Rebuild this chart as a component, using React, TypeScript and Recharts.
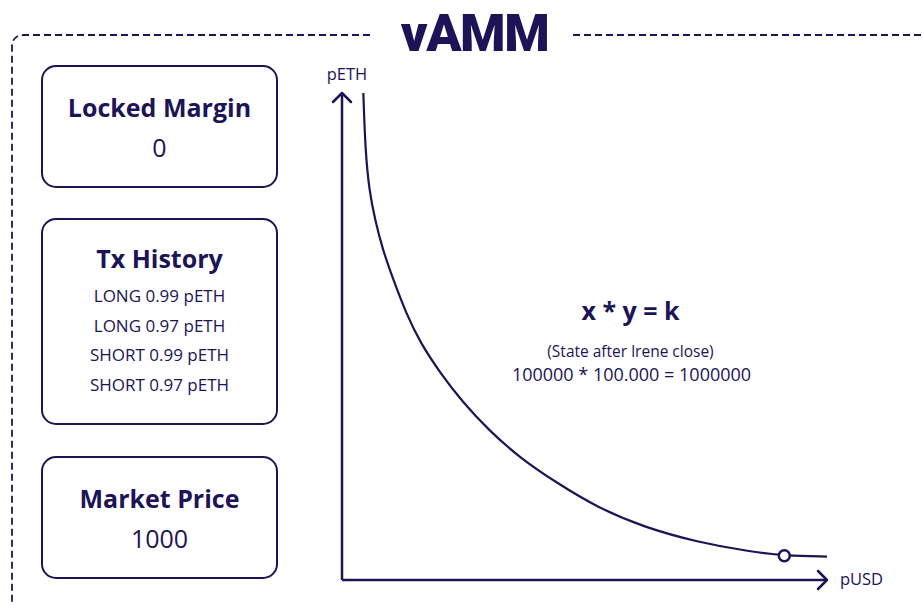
import { LineChart, Line, XAxis, YAxis, ReferenceDot } from 'recharts'

const NAVY = '#1c1456'
const FONT = '"Open Sans", "Noto Sans", sans-serif'

// curve points (pUSD, pETH)
const pUsd = [22, 24, 28, 34, 42, 53, 66, 81, 101, 124, 152, 184, 221, 264, 312, 366, 421, 457, 500]
const pEth = [500, 442, 400, 370, 339, 308, 274, 243, 213, 183, 153, 125, 100, 74, 54, 39, 29, 25, 24]
const statePoint = { pUsd: 456, pEth: 25 }

const txHistory = ['LONG 0.99 pETH', 'LONG 0.97 pETH', 'SHORT 0.99 pETH', 'SHORT 0.97 pETH']

const curve = pUsd.map((x, i) => ({ pUsd: x, pEth: pEth[i] }))

// text centred on (cx, cy)
function Txt({ cx, cy, size, weight = 400, lh, children, family = FONT, ls = 0 }: any) {
  const h = lh ?? size * 1.4
  return (
    <div style={{
      position: 'absolute', left: cx - 250, width: 500, top: cy - h / 2, height: h,
      lineHeight: `${h}px`, fontSize: size, fontWeight: weight, fontFamily: family,
      textAlign: 'center', color: NAVY, whiteSpace: 'nowrap', letterSpacing: ls,
    }}>
      {children}
    </div>
  )
}

function Box({ top, height }: { top: number; height: number }) {
  return (
    <div style={{
      position: 'absolute', left: 41, top, width: 237, height,
      boxSizing: 'border-box', border: `2px solid ${NAVY}`, borderRadius: 15,
    }} />
  )
}

export default function App() {
  return (
    <div style={{ position: 'absolute', left: 0, top: 0, width: 922, height: 604, background: '#fff', overflow: 'hidden' }}>
      <svg width={0} height={0} style={{ position: 'absolute' }}>
        <defs>
          <marker id="arrow" viewBox="-12 -11 14 22" markerWidth={14} markerHeight={22}
            refX={0} refY={0} markerUnits="userSpaceOnUse" orient="auto-start-reverse">
            <path d="M-9,-9 L0,0 L-9,9" fill="none" stroke={NAVY} strokeWidth={2.5}
              strokeLinecap="round" strokeLinejoin="round" />
          </marker>
        </defs>
      </svg>

      {/* dashed frame */}
      <svg width={922} height={604} style={{ position: 'absolute', left: 0, top: 0 }}>
        <path d="M370,35 L24,35 Q12,35 12,47 L12,610" fill="none" stroke={NAVY}
          strokeWidth={1.8} strokeDasharray="7 4" />
        <path d="M573,35 L930,35" fill="none" stroke={NAVY} strokeWidth={1.8} strokeDasharray="7 4" />
      </svg>

      <Txt cx={474.5} cy={33.5} size={52} weight={900} lh={52} family="Roboto, sans-serif" ls={-1.5}>
        vAMM
      </Txt>

      <Box top={65} height={123} />
      <Txt cx={159.5} cy={107} size={25} weight={700} lh={40}>Locked Margin</Txt>
      <Txt cx={159.5} cy={146.5} size={25} lh={40}>0</Txt>

      <Box top={218} height={207} />
      <Txt cx={159.5} cy={258} size={25} weight={700} lh={34}>Tx History</Txt>
      {txHistory.map((t, i) => (
        <Txt key={t} cx={159.5} cy={296 + i * 29.5} size={17} lh={28}>{t}</Txt>
      ))}

      <Box top={456} height={123} />
      <Txt cx={159.5} cy={498} size={25} weight={700} lh={40}>Market Price</Txt>
      <Txt cx={159.5} cy={537.5} size={25} lh={40}>1000</Txt>

      <div style={{ position: 'absolute', left: 0, top: 0 }}>
        <LineChart width={922} height={604} data={curve}
          margin={{ top: 93, left: 341, right: 95, bottom: 23 }}>
          <XAxis dataKey="pUsd" type="number" domain={[0, 500]} height={1} tick={false} tickLine={false}
            axisLine={{ stroke: NAVY, strokeWidth: 2.5, markerEnd: 'url(#arrow)' }} />
          <YAxis type="number" domain={[0, 500]} width={1} tick={false} tickLine={false}
            axisLine={{ stroke: NAVY, strokeWidth: 2.5, markerStart: 'url(#arrow)' }} />
          <Line dataKey="pEth" type="basis" stroke={NAVY} strokeWidth={2.2} dot={false}
            isAnimationActive={false} />
          <ReferenceDot x={statePoint.pUsd} y={statePoint.pEth} r={5.5} fill="#fff"
            stroke={NAVY} strokeWidth={2.5} />
        </LineChart>
      </div>

      <Txt cx={347} cy={73.5} size={16.5}>pETH</Txt>
      <Txt cx={861.5} cy={578.5} size={16.5}>pUSD</Txt>

      <Txt cx={630.5} cy={310} size={25} weight={700}>x * y = k</Txt>
      <Txt cx={630.5} cy={352} size={15.5}>(State after lrene close)</Txt>
      <Txt cx={631.5} cy={375} size={18}>100000 * 100.000 = 1000000</Txt>
    </div>
  )
}
